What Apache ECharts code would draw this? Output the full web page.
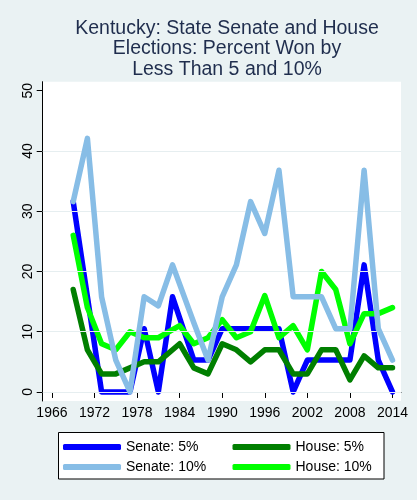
<!DOCTYPE html>
<html>
<head>
<meta charset="utf-8">
<script src="https://cdn.jsdelivr.net/npm/echarts@6/dist/echarts.min.js"></script>
<style>
  html, body { margin: 0; padding: 0; background: #eaf2f3; }
  #chart { width: 417px; height: 500px; }
</style>
</head>
<body>
<div id="chart"></div>
<script>
// election years (Senate and House differ around the switch to even years)
const senateYears = [1969, 1971, 1973, 1975, 1977, 1979, 1981, 1983, 1986, 1988, 1990, 1992, 1994, 1996, 1998, 2000, 2002, 2004, 2006, 2008, 2010, 2012, 2014];
const houseYears  = [1969, 1971, 1973, 1975, 1977, 1979, 1981, 1984, 1986, 1988, 1990, 1992, 1994, 1996, 1998, 2000, 2002, 2004, 2006, 2008, 2010, 2012, 2014];

const senate5  = [31.6, 15.8, 0, 0, 0, 10.5, 0, 15.8, 5.3, 5.3, 10.5, 10.5, 10.5, 10.5, 10.5, 0, 5.3, 5.3, 5.3, 5.3, 21.1, 5.3, 0];
const senate10 = [31.6, 42.1, 15.8, 5.3, 0, 15.8, 14.3, 21.1, 11.5, 5.3, 15.8, 21.1, 31.6, 26.3, 36.8, 15.8, 15.8, 15.8, 10.5, 10.5, 36.8, 10.5, 5.3];
const house5   = [17, 7, 3, 3, 4, 5, 5, 8, 4, 3, 8, 7, 5, 7, 7, 3, 3, 7, 7, 2, 6, 4, 4];
const house10  = [26, 14, 8, 7, 10, 9, 9, 11, 8, 9, 12, 9, 10, 16, 9, 11, 7, 20, 17, 8, 13, 13, 14];

const xTicks = [1966, 1972, 1978, 1984, 1990, 1996, 2002, 2008, 2014];
const yTicks = [0, 10, 20, 30, 40, 50];
const gridLines = [0, 10, 20, 30, 40];

const FONT = 'Liberation Sans, Arial, sans-serif';

function pairs(xs, ys) {
  return xs.map((x, i) => [x, ys[i]]);
}

function lineSeries(name, xs, ys, color, z) {
  return {
    name: name,
    type: 'line',
    data: pairs(xs, ys),
    symbol: 'none',
    z: z,
    lineStyle: { color: color, width: 5.5, cap: 'round', join: 'round' },
    itemStyle: { color: color },
    animation: false
  };
}

const chart = echarts.init(document.getElementById('chart'));

chart.setOption({
  backgroundColor: '#eaf2f3',
  animation: false,
  title: {
    text: 'Kentucky: State Senate and House\nElections: Percent Won by\nLess Than 5 and 10%',
    left: 222,
    textAlign: 'center',
    top: 13,
    textStyle: { fontFamily: FONT, fontSize: 19.5, fontWeight: 'normal', color: '#1f2d4d', lineHeight: 20.5 }
  },
  grid: {
    left: 42.7, right: 16, top: 81.7, bottom: 99,
    show: true, backgroundColor: '#ffffff', borderWidth: 0
  },
  legend: [
    {
      orient: 'vertical', left: 63, top: 439, padding: 0, itemGap: 4,
      itemWidth: 58, itemHeight: 6, icon: 'roundRect',
      data: ['Senate: 5%', 'Senate: 10%'],
      textStyle: { fontFamily: FONT, fontSize: 14, color: '#000', lineHeight: 16 }
    },
    {
      orient: 'vertical', left: 232.5, top: 439, padding: 0, itemGap: 4,
      itemWidth: 58, itemHeight: 6, icon: 'roundRect',
      data: ['House: 5%', 'House: 10%'],
      textStyle: { fontFamily: FONT, fontSize: 14, color: '#000', lineHeight: 16 }
    }
  ],
  graphic: [{
    type: 'rect', z: -1,
    shape: { x: 58.5, y: 432.5, width: 325.5, height: 46.5 },
    style: { fill: '#ffffff', stroke: '#000', lineWidth: 1 }
  }],
  xAxis: {
    type: 'value', min: 1964.7, max: 2015.2,
    axisLine: { show: true, lineStyle: { color: '#000', width: 1 } },
    axisTick: { show: true, customValues: xTicks, length: 6, lineStyle: { color: '#000' } },
    axisLabel: {
      customValues: xTicks, formatter: v => String(v),
      fontFamily: FONT, fontSize: 14, color: '#000', margin: 5
    },
    splitLine: { show: false }
  },
  yAxis: {
    type: 'value', min: -1.5, max: 51.5,
    axisLine: { show: true, lineStyle: { color: '#000', width: 1 } },
    axisTick: { show: true, customValues: yTicks, length: 6, lineStyle: { color: '#000' } },
    axisLabel: { customValues: yTicks, rotate: 90, fontFamily: FONT, fontSize: 14, color: '#000', margin: 8 },
    splitLine: { show: false }
  },
  series: [
    {
      name: 'grid', type: 'line', data: [], z: 1, silent: true,
      markLine: {
        silent: true, symbol: 'none', label: { show: false }, animation: false,
        lineStyle: { color: '#e6eef0', width: 1, type: 'solid' },
        data: gridLines.map(v => ({ yAxis: v }))
      }
    },
    lineSeries('Senate: 5%', senateYears, senate5, '#0000ff', 2),
    lineSeries('House: 5%', houseYears, house5, '#007f00', 3),
    lineSeries('House: 10%', houseYears, house10, '#00ff00', 4),
    lineSeries('Senate: 10%', senateYears, senate10, '#87bde6', 5)
  ]
});
</script>
</body>
</html>
